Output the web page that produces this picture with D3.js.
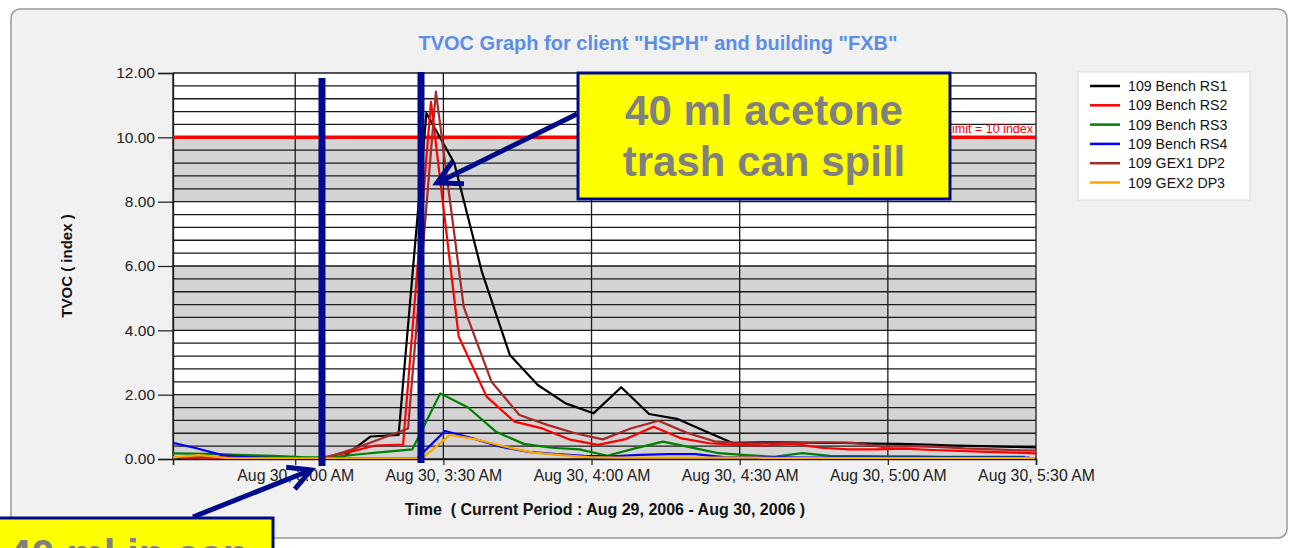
<!DOCTYPE html>
<html><head><meta charset="utf-8">
<script src="https://cdn.jsdelivr.net/npm/d3@7"></script>
<style>
body{margin:0;background:#fff;}
svg{display:block;font-family:"Liberation Sans",Arial,sans-serif;}
</style>
</head><body>
<svg id="chart" width="1290" height="548"></svg>
<script>
// ---------------- data ----------------
const chartTitle = 'TVOC Graph for client "HSPH" and building "FXB"';
const yAxisTitle = "TVOC ( index )";
const xAxisTitle = "Time  ( Current Period : Aug 29, 2006 - Aug 30, 2006 )";
const seriesNames = ["109 Bench RS1","109 Bench RS2","109 Bench RS3","109 Bench RS4","109 GEX1 DP2","109 GEX2 DP3"];
const seriesColors = ["#000000","#ff0000","#008000","#0000ff","#a52a2a","#ffa500"];
// sample times of the logger cycle, and each sensor's lag inside the cycle (seconds)
const sampleTimes = ["02:35:15","02:40:53","02:46:31","02:52:10","02:57:48","03:03:26","03:09:04","03:14:42",
  "03:20:21","03:25:59","03:31:37","03:37:15","03:42:53","03:48:32","03:54:10","03:59:48","04:05:26","04:11:04",
  "04:16:43","04:22:21","04:27:59","04:33:37","04:39:15","04:44:54","04:50:32","04:56:10","05:01:48","05:07:26",
  "05:13:05","05:18:43","05:24:21","05:29:59"];
const sensorLagSec = [35, 90, -135, -78, 150, -17];
const benchRS1 = [0.05,0.05,0.05,0.05,0.04,0.03,0.05,0.70,0.75,10.75,9.20,5.80,3.23,2.30,1.73,1.42,2.23,1.40,1.25,0.87,0.50,0.52,0.52,0.50,0.50,0.48,0.47,0.45,0.42,0.40,0.38,0.36];
const benchRS2 = [0.05,0.03,0.03,0.03,0.03,0.03,0.20,0.42,0.45,11.10,3.80,1.94,1.16,0.95,0.60,0.44,0.62,1.00,0.64,0.49,0.44,0.42,0.48,0.35,0.30,0.30,0.32,0.28,0.25,0.22,0.20,0.17];
const benchRS3 = [0.18,0.17,0.15,0.12,0.10,0.06,0.04,0.14,0.22,0.30,2.04,1.60,0.85,0.47,0.35,0.30,0.10,0.33,0.54,0.36,0.18,0.12,0.07,0.18,0.10,0.09,0.08,0.08,0.07,0.07,0.07,0.07];
const benchRS4 = [0.55,0.35,0.12,0.05,0.03,0.03,0.02,0.02,0.02,0.02,0.87,0.64,0.38,0.22,0.15,0.10,0.08,0.13,0.15,0.15,0.06,0.05,0.05,0.04,0.04,0.04,0.04,0.04,0.04,0.04,0.04,0.04];
const gex1DP2 = [0.05,0.06,0.03,0.03,0.03,0.03,0.30,0.62,0.95,11.42,4.73,2.40,1.37,1.06,0.80,0.61,0.95,1.19,0.82,0.55,0.49,0.49,0.50,0.52,0.50,0.38,0.40,0.38,0.33,0.30,0.27,0.25];
const gex2DP3 = [0.05,0.12,0.03,0.02,0.02,0.02,0.02,0.02,0.02,0.02,0.75,0.60,0.38,0.20,0.12,0.06,0.04,0.04,0.04,0.04,0.04,0.04,0.03,0.03,0.03,0.03,0.03,0.03,0.03,0.03,0.03,0.03];
const seriesValues = [benchRS1, benchRS2, benchRS3, benchRS4, gex1DP2, gex2DP3];
const xDomain = ["02:35:15","05:30:00"];
const xTickTimes = ["03:00:00","03:30:00","04:00:00","04:30:00","05:00:00","05:30:00"];
const xTickLabels = ["Aug 30, 3:00 AM","Aug 30, 3:30 AM","Aug 30, 4:00 AM","Aug 30, 4:30 AM","Aug 30, 5:00 AM","Aug 30, 5:30 AM"];
const yTicks = [0,2,4,6,8,10,12];
const yTickLabels = ["0.00","2.00","4.00","6.00","8.00","10.00","12.00"];
const limitValue = 10;
const limitLabel = "Limit = 10 index";
const note1 = ["40 ml acetone","trash can spill"];
const note2 = "40 ml in can";
const spillTimes = ["03:05:25","03:25:28"];

// ---------------- drawing ----------------
const svg = d3.select("#chart");
const parse = d3.timeParse("%H:%M:%S");
const M = {left:173, right:1036, top:73, bottom:459};
const x = d3.scaleTime().domain(xDomain.map(parse)).range([M.left, M.right]);
const y = d3.scaleLinear().domain([0,12]).range([M.bottom, M.top]);
const navy = "#000a8c";

// outer panel
svg.append("rect").attr("x",11).attr("y",9).attr("width",1276).attr("height",529).attr("rx",9)
  .attr("fill","#f1f1f1").attr("stroke","#9a9a9a").attr("stroke-width",1.5);

// title
svg.append("text").attr("x",658).attr("y",50).attr("text-anchor","middle")
  .attr("font-size",20).attr("font-weight","bold").attr("fill","#5b8ee6").text(chartTitle);

// plot background + bands
const plot = svg.append("g");
plot.append("rect").attr("x",M.left).attr("y",M.top).attr("width",M.right-M.left).attr("height",M.bottom-M.top).attr("fill","#fff");
[[0,2],[4,6],[8,10]].forEach(b=>{
  plot.append("rect").attr("x",M.left).attr("width",M.right-M.left)
    .attr("y",y(b[1])).attr("height",y(b[0])-y(b[1])).attr("fill","#d4d4d4");
});
// horizontal grid every 0.4
plot.append("g").selectAll("line").data(d3.range(0,12.001,0.4)).join("line")
  .attr("x1",M.left).attr("x2",M.right).attr("y1",d=>y(d)).attr("y2",d=>y(d))
  .attr("stroke","#1a1a1a").attr("stroke-width",1.3);
// vertical grid at ticks + left border
plot.append("g").selectAll("line").data([parse(xDomain[0])].concat(xTickTimes.map(parse))).join("line")
  .attr("x1",d=>x(d)).attr("x2",d=>x(d)).attr("y1",M.top).attr("y2",M.bottom)
  .attr("stroke","#1a1a1a").attr("stroke-width",1.3);

// y axis
const yAxis = d3.axisLeft(y).tickValues(yTicks).tickSize(15).tickPadding(3)
  .tickFormat((d,i)=>yTickLabels[i]);
const gy = svg.append("g").attr("transform",`translate(${M.left},0)`).call(yAxis);
gy.select(".domain").attr("stroke","#1a1a1a").attr("stroke-width",1.3);
gy.selectAll(".tick line").attr("stroke","#1a1a1a").attr("stroke-width",1.2);
gy.selectAll(".tick text").attr("font-size",15.5).attr("fill","#222").attr("font-family","Liberation Sans, Arial, sans-serif");

// x axis
const xAxis = d3.axisBottom(x).tickValues(xTickTimes.map(parse)).tickSize(6).tickPadding(5)
  .tickFormat((d,i)=>xTickLabels[i]);
const gx = svg.append("g").attr("transform",`translate(0,${M.bottom})`).call(xAxis);
gx.select(".domain").attr("stroke","#1a1a1a").attr("stroke-width",1.5);
gx.selectAll(".tick line").attr("stroke","#1a1a1a").attr("stroke-width",1.2);
gx.selectAll(".tick text").attr("font-size",15.8).attr("fill","#222").attr("font-family","Liberation Sans, Arial, sans-serif");

// axis titles
svg.append("text").attr("transform","translate(72,266) rotate(-90)").attr("text-anchor","middle")
  .attr("font-size",15).attr("font-weight","bold").attr("fill","#111").text(yAxisTitle);
svg.append("text").attr("x",605).attr("y",515).attr("text-anchor","middle").style("white-space","pre")
  .attr("font-size",16).attr("font-weight","bold").attr("fill","#111").text(xAxisTitle);

// limit line
svg.append("line").attr("x1",M.left).attr("x2",M.right).attr("y1",y(limitValue)).attr("y2",y(limitValue))
  .attr("stroke","#ff0000").attr("stroke-width",3.5);
svg.append("text").attr("x",M.right-3).attr("y",y(limitValue)-4).attr("text-anchor","end")
  .attr("font-size",12.5).attr("fill","#ff0000").text(limitLabel);

// series
svg.append("clipPath").attr("id","clip").append("rect")
  .attr("x",M.left).attr("y",M.top-10).attr("width",M.right-M.left).attr("height",M.bottom-M.top+10);
const line = d3.line().x(d=>x(d.t)).y(d=>y(d.v));
const series = seriesNames.map((n,si)=>({
  name:n, color:seriesColors[si],
  pts: seriesValues[si].map((v,i)=>({t:new Date(parse(sampleTimes[i]).getTime()+sensorLagSec[si]*1000), v}))
}));
svg.append("g").attr("clip-path","url(#clip)").selectAll("path").data(series).join("path")
  .attr("d",d=>line(d.pts)).attr("fill","none").attr("stroke",d=>d.color)
  .attr("stroke-width",2.2).attr("stroke-linejoin","round");

// legend
const lg = svg.append("g");
lg.append("rect").attr("x",1078).attr("y",72).attr("width",172).attr("height",128).attr("fill","#fff").attr("stroke","#d8d8d8");
seriesNames.forEach((n,i)=>{
  const yy = 86 + i*19.3;
  lg.append("line").attr("x1",1090).attr("x2",1120).attr("y1",yy).attr("y2",yy).attr("stroke",seriesColors[i]).attr("stroke-width",2.5);
  lg.append("text").attr("x",1128).attr("y",yy+5).attr("font-size",14.2).attr("fill","#111").text(n);
});

// annotations: spill markers
spillTimes.forEach((t,i)=>{
  svg.append("line").attr("x1",x(parse(t))).attr("x2",x(parse(t)))
    .attr("y1",i===0?78:72).attr("y2",i===0?466:463).attr("stroke",navy).attr("stroke-width",7);
});
function arrow(x1,y1,x2,y2,w,head){
  const a = Math.atan2(y1-y2,x1-x2), s=28*Math.PI/180;
  svg.append("line").attr("x1",x1).attr("y1",y1).attr("x2",x2).attr("y2",y2).attr("stroke",navy).attr("stroke-width",w);
  svg.append("path").attr("d",`M${x2+head*Math.cos(a+s)},${y2+head*Math.sin(a+s)}L${x2},${y2}L${x2+head*Math.cos(a-s)},${y2+head*Math.sin(a-s)}`)
    .attr("fill","none").attr("stroke",navy).attr("stroke-width",w).attr("stroke-linecap","butt");
}
arrow(577,114,437,183,5,27);
arrow(193,517,311,470,5,25);

// note boxes
svg.append("rect").attr("x",578).attr("y",73).attr("width",372).attr("height",126)
  .attr("fill","#ffff00").attr("stroke",navy).attr("stroke-width",3);
note1.forEach((t,i)=>svg.append("text").attr("x",764).attr("y",125+i*51).attr("text-anchor","middle")
  .attr("font-size",42).attr("font-weight","bold").attr("fill","#808080").text(t));
svg.append("rect").attr("x",-5).attr("y",518).attr("width",278).attr("height",60)
  .attr("fill","#ffff00").attr("stroke",navy).attr("stroke-width",3);
svg.append("text").attr("x",8).attr("y",569).attr("font-size",42).attr("font-weight","bold").attr("fill","#808080").text(note2);
</script>
</body></html>
